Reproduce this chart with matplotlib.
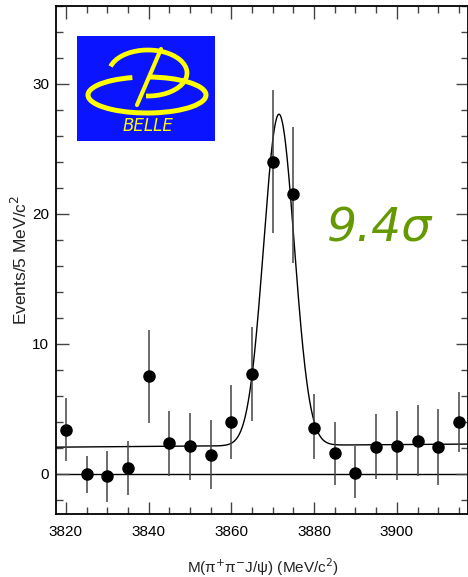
import numpy as np
import matplotlib
matplotlib.use('Agg')
import matplotlib.pyplot as plt
from matplotlib.patches import Arc, Rectangle
from matplotlib.ticker import MultipleLocator

plt.rcParams['font.family'] = ['Liberation Sans', 'DejaVu Sans']

# binned data, 5 MeV bins
mass = [3820, 3825, 3830, 3835, 3840, 3845, 3850, 3855, 3860, 3865,
        3870, 3875, 3880, 3885, 3890, 3895, 3900, 3905, 3910, 3915]
events = [3.35, 0.0, -0.2, 0.45, 7.5, 2.4, 2.1, 1.45, 4.0, 7.7,
          24.0, 21.5, 3.55, 1.6, 0.05, 2.05, 2.15, 2.55, 2.05, 4.0]
err_hi = [5.8, 1.35, 1.75, 2.55, 11.1, 4.85, 4.7, 4.1, 6.85, 11.3,
          29.5, 26.7, 6.1, 3.95, 2.1, 4.6, 4.85, 5.3, 4.95, 6.3]
err_lo = [0.95, -1.45, -2.2, -1.65, 3.9, -0.15, -0.5, -1.15, 1.1, 4.05,
          18.5, 16.2, 1.1, -0.85, -1.9, -0.4, -0.45, -0.15, -0.85, 1.65]

# fit: gaussian signal on linear background
fit_mean = 3871.5
fit_sigma = 3.7
fit_amp = 25.5
bg_at_3820 = 2.05
bg_slope = 0.0024

fig = plt.figure(figsize=(4.68, 5.77), dpi=100)
W, H = 468.0, 577.0
ax = fig.add_axes([56 / W, 1 - 514 / H, 412 / W, 508 / H])

ev = np.array(events)
yerr = [ev - np.array(err_lo), np.array(err_hi) - ev]

ax.axhline(0, color='black', lw=1.0, zorder=1)

xf = np.linspace(3817.6, 3917.2, 800)
yf = bg_at_3820 + bg_slope * (xf - 3820) + fit_amp * np.exp(-(xf - fit_mean) ** 2 / (2 * fit_sigma ** 2))
ax.plot(xf, yf, color='black', lw=1.0, zorder=2)

ax.errorbar(mass, events, yerr=yerr, fmt='o', color='black', ecolor='#444444',
            elinewidth=1.1, markersize=8, capsize=0, zorder=3)

ax.set_xlim(3817.6, 3917.2)
ax.set_ylim(-3.1, 36)
ax.xaxis.set_major_locator(MultipleLocator(20))
ax.xaxis.set_minor_locator(MultipleLocator(5))
ax.yaxis.set_major_locator(MultipleLocator(10))
ax.yaxis.set_minor_locator(MultipleLocator(2))
ax.tick_params(which='both', direction='in', top=True, right=True, color='#444444')
ax.tick_params(which='major', length=9, width=1.0, labelsize=11, pad=8)
ax.tick_params(which='minor', length=5, width=1.0)
ax.tick_params(axis='y', which='major', pad=5)
for s in ax.spines.values():
    s.set_linewidth(1.3)

fig.text(20 / W, 1 - 260 / H, 'Events/5 MeV/c$^2$', rotation=90, ha='center',
         va='center', fontsize=12.5, color='#222222')
fig.text(263 / W, 1 - 567 / H, 'M(π$^{+}$π$^{-}$J/ψ) (MeV/c$^2$)', ha='center',
         va='center', fontsize=11, color='#222222')

# significance
fig.text(327 / W, 1 - 242 / H, '9.4σ', fontsize=34, style='italic', color='#669900',
         family='DejaVu Sans', ha='left', va='baseline')

# Belle logo, local pixel coordinates (y up)
lx = fig.add_axes([77 / W, 1 - 141 / H, 138 / W, 105 / H])
lx.set_xlim(0, 138)
lx.set_ylim(0, 105)
lx.axis('off')
lx.add_patch(Rectangle((0, 0), 138, 105, facecolor='#0a14ff', edgecolor='none'))
yel = '#ffff00'
lx.add_patch(Arc((71, 68), 78, 46, theta1=-95, theta2=170, color=yel, lw=3.4))
lx.add_patch(Arc((70, 46), 118, 36, theta1=-230, theta2=85, color=yel, lw=3.6))
lx.plot([84, 60], [92, 36], color=yel, lw=3.0, solid_capstyle='round')
lx.text(71, 15, 'BELLE', color=yel, fontsize=12, style='italic', ha='center',
        va='center', family='DejaVu Sans')

fig.savefig('out.png', dpi=100)
